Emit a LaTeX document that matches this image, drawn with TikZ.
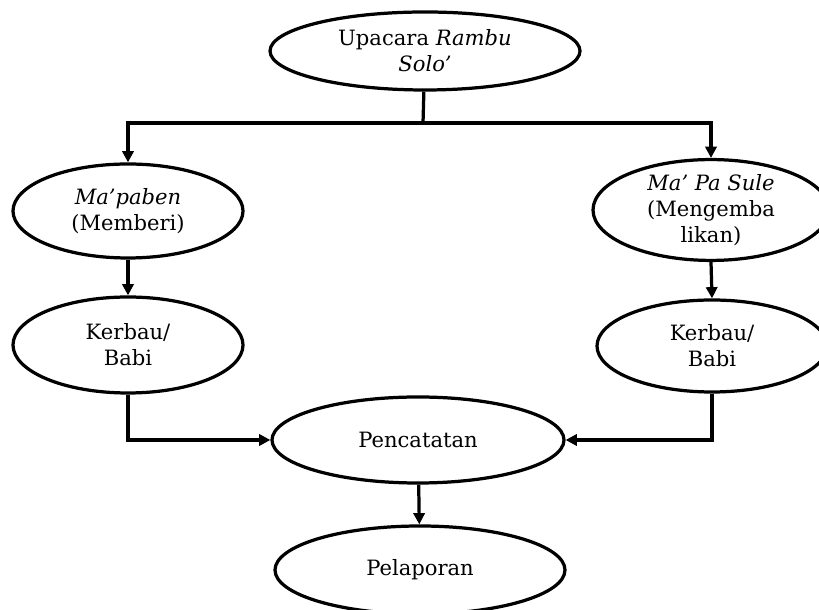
\documentclass[tikz,border=0pt]{standalone}
\usepackage{fontspec}
\setmainfont{DejaVu Serif}
\usetikzlibrary{shapes.geometric,arrows.meta}

\begin{document}
\begin{tikzpicture}[line width=2.3pt,
  bubble/.style={ellipse, draw, inner sep=0pt, align=center,
    font=\fontsize{15}{18.5}\selectfont},
  arr/.style={-{Triangle[length=8pt,width=8pt]}}]
\useasboundingbox (0,0) rectangle (20.475,15.25);

% Ellipses
\node[bubble, minimum width=7.75cm, minimum height=1.95cm] (rambu) at (10.625,13.975) {Upacara \textit{Rambu}\\\textit{Solo’}};
\node[bubble, minimum width=5.75cm, minimum height=2.35cm] (mapaben) at (3.2,9.975) {\textit{Ma’paben}\\(Memberi)};
\node[bubble, minimum width=5.9cm, minimum height=2.4cm] (pasule) at (17.775,10.0) {\textit{Ma’ Pa Sule}\\(Mengemba\\likan)};
\node[bubble, minimum width=5.75cm, minimum height=2.4cm] (kerbauL) at (3.2,6.625) {Kerbau/\\Babi};
\node[bubble, minimum width=5.75cm, minimum height=2.3cm] (kerbauR) at (17.8,6.6) {Kerbau/\\Babi};
\node[bubble, minimum width=7.3cm, minimum height=2.15cm] (catat) at (10.45,4.25) {Pencatatan};
\node[bubble, minimum width=7.25cm, minimum height=2.2cm] (lapor) at (10.5,1.0) {Pelaporan};

% Branch bar
\coordinate (bar) at (10.575,12.175);
\draw (rambu) -- (bar);
\draw[arr] (bar) -| (mapaben);
\draw[arr] (bar) -| (pasule);

% Arrows down
\draw[arr] (mapaben) -- (kerbauL);
\draw[arr] (pasule.south) -- (kerbauR.north);
\draw[arr] (kerbauL) |- (catat);
\draw[arr] (kerbauR) |- (catat);
\draw[arr] (catat) -- (lapor);
\end{tikzpicture}
\end{document}
